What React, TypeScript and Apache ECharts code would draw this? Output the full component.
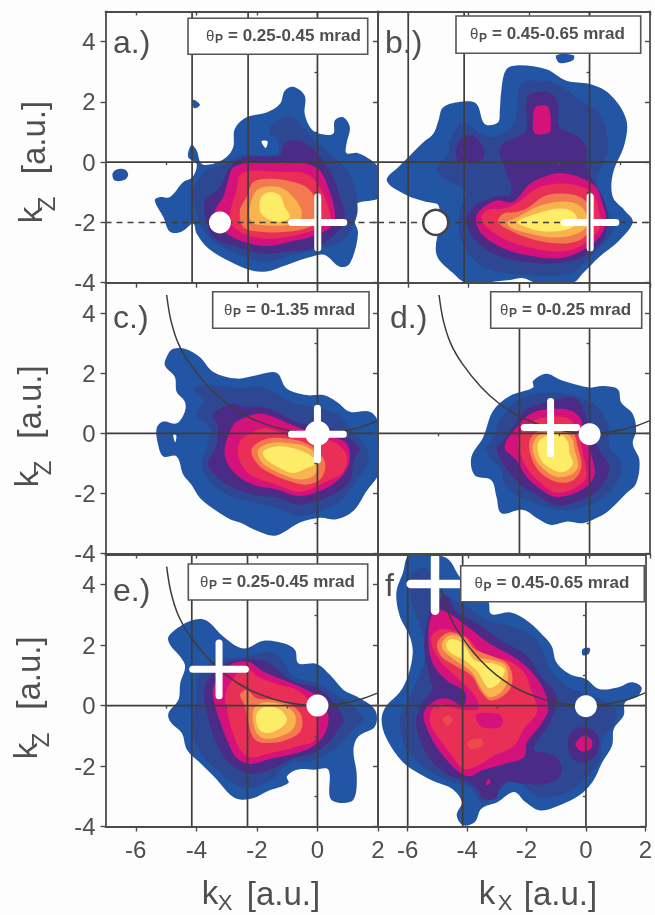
import React, { useEffect, useRef } from "react";
import * as echarts from "echarts";

type Poly = [number, number[][]];

const LEVEL_COLORS = ["#2255a3", "#2d4793", "#4a2b86", "#d5127c", "#e92f55", "#f27a4e", "#f9b44f", "#fdec68", "#ffffff", "#ec4a4c"];
const evenX = [-6, -4, -2, 0, 2];
const oddX = [-5, -3, -1, 1];
const evenZ = [-4, -2, 0, 2, 4];
const oddZ = [-3, -1, 1, 3];
const panelLetters = ["a.)", "b.)", "c.)", "d.)", "e.)", "f.)"];
const thetaRanges = ["0.25-0.45", "0.45-0.65", "0-1.35", "0-0.25", "0.25-0.45", "0.45-0.65"];
const verticalLines = [[-4.14, -2.29], [-6, -4.15], [], [-2.32], [-4.15, -2.31], [-6, -4.15]];
const arcPanels = [2, 3, 4, 5];
const arcPoints = [[-4.98, 4.6], [-4.85, 3.8], [-4.6, 3.0], [-4.2, 2.3], [-3.6, 1.55], [-3, 1.0], [-2.3, 0.55], [-1.5, 0.23], [-0.7, 0.05], [0, 0], [0.7, 0.05], [1.4, 0.2], [2, 0.42]];
// circle per panel: kx, kz
const circles = [[-3.22, -2], [-5.09, -2], [0, 0], [0, -0.03], [0, 0], [0, -0.02]];
// plus per panel: kx, kz, half arm in kx, half arm in kz
const pluses = [[0.01, -2, 0.86, 0.85], [0.02, -2, 0.85, 0.85], [0, -0.03, 0.86, 0.86], [-1.29, 0.19, 0.87, 0.87], [-3.25, 1.2, 0.87, 0.87], [-5.08, 4.02, 0.82, 0.88]];

const contoursA: Poly[] = [
  [0, [[-0.8, 2.5], [-0.42, 2.2], [-0.42, 1.6], [-0.2, 1.1], [0.08, 0.94], [0.52, 0.94], [0.57, 1.38], [0.85, 1.49], [1.07, 1.16], [0.96, 0.61], [0.96, 0.3], [1.34, 0.3], [1.78, 0.06], [2.06, -0.28], [2.06, -1.16], [1.29, -1.38], [1.18, -1.82], [1.34, -2.37], [1.07, -3.36], [0.74, -3.47], [0.24, -3.08], [-0.2, -3.14], [-1.02, -3.41], [-1.68, -3.63], [-2.23, -3.58], [-2.89, -3.3], [-3.61, -2.86], [-3.99, -2.37], [-4.1, -2.04], [-4.49, -2.31], [-4.87, -2.31], [-5.09, -1.82], [-5.37, -1.27], [-5.2, -1.16], [-4.87, -1.16], [-4.43, -0.66], [-4.13, -0.5], [-3.99, -0.06], [-4.27, 0.17], [-4.16, 0.57], [-3.99, 0.39], [-3.83, -0.05], [-3.44, -0.05], [-3.0, 0.17], [-2.78, 0.5], [-2.73, 1.1], [-2.34, 1.49], [-1.68, 1.65], [-1.24, 1.93], [-1.08, 2.37]]],
  [0, [[-6.77, -0.39], [-6.63, -0.24], [-6.36, -0.24], [-6.25, -0.41], [-6.36, -0.58], [-6.69, -0.61]]],
  [0, [[-4.1, 2.07], [-3.88, 1.9], [-4.08, 1.79]]],
  [8, [[-1.85, 0.69], [-1.65, 0.69], [-1.71, 0.47]]],
  [1, [[-1.52, 1.21], [-1.13, 1.49], [-0.75, 1.46], [-0.42, 1.1], [-0.09, 0.72], [0.35, 0.33], [0.68, 0.06], [1.07, -0.39], [1.29, -1.16], [1.29, -1.82], [0.85, -2.59], [0.08, -2.86], [-1.02, -3.14], [-1.79, -3.3], [-2.56, -3.08], [-3.33, -2.7], [-3.77, -2.26], [-3.99, -1.71], [-4.1, -0.94], [-3.66, -0.28], [-3.0, -0.05], [-2.56, 0.22], [-1.68, 0.22], [-1.3, 0.28], [-1.3, 0.72], [-1.57, 0.94]]],
  [2, [[-1.13, 0.55], [-0.86, 0.72], [-0.47, 0.66], [-0.09, 0.39], [0.24, -0.05], [0.52, -0.5], [0.74, -1.16], [0.9, -1.71], [0.85, -2.09], [0.41, -2.53], [-0.14, -2.86], [-1.02, -2.97], [-1.79, -3.03], [-2.67, -2.81], [-3.44, -2.48], [-3.66, -1.93], [-3.72, -1.32], [-3.22, -0.83], [-2.89, -0.17], [-2.34, 0.17], [-1.24, 0.22]]],
  [3, [[-2.78, -0.17], [-2.29, -0.02], [-1.24, -0.03], [-0.36, -0.05], [0.08, -0.28], [0.35, -0.83], [0.57, -1.6], [0.52, -2.04], [-0.03, -2.42], [-0.91, -2.64], [-1.68, -2.78], [-2.45, -2.64], [-3.0, -2.37], [-3.44, -1.93], [-3.33, -1.49], [-3.11, -1.16], [-2.89, -0.39]]],
  [4, [[-2.56, -0.44], [-2.12, -0.28], [-1.13, -0.33], [-0.36, -0.39], [0.08, -0.83], [0.35, -1.49], [0.41, -1.93], [-0.14, -2.26], [-1.02, -2.48], [-1.79, -2.53], [-2.45, -2.37], [-2.89, -1.98], [-2.84, -1.49], [-2.67, -0.94]]],
  [5, [[-2.12, -0.66], [-1.57, -0.55], [-1.02, -0.61], [-0.36, -0.83], [-0.03, -1.27], [0.13, -1.82], [-0.25, -2.15], [-1.02, -2.31], [-1.9, -2.31], [-2.45, -2.15], [-2.56, -1.6], [-2.34, -1.16]]],
  [6, [[-2.01, -0.94], [-1.57, -0.8], [-1.13, -0.88], [-0.8, -1.16], [-0.53, -1.6], [-0.58, -1.93], [-1.02, -2.09], [-1.79, -2.09], [-2.18, -1.98], [-2.23, -1.49]]],
  [7, [[-1.85, -1.16], [-1.57, -0.99], [-1.24, -1.1], [-1.08, -1.49], [-0.91, -1.82], [-1.24, -1.98], [-1.68, -1.87], [-1.9, -1.6]]],
];

const contoursB: Poly[] = [
  [0, [[-2.31, 3.22], [-1.43, 3.08], [-0.77, 2.7], [0, 2.59], [0.66, 2.26], [1.21, 1.43], [1.16, 0.61], [0.77, -0.39], [0.77, -1.16], [1.16, -1.6], [1.43, -1.98], [0.99, -2.59], [0.33, -3.14], [-0.22, -3.69], [-0.55, -4.0], [-1.76, -4.0], [-2.2, -3.85], [-2.64, -3.91], [-4.07, -4.0], [-4.51, -3.69], [-5.06, -3.08], [-5.0, -2.15], [-5.0, -1.43], [-5.39, -1.32], [-6.05, -1.1], [-6.71, -0.61], [-6.27, -0.11], [-5.94, 0.22], [-5.5, 0.66], [-5.17, 0.94], [-5.0, 1.38], [-4.84, 1.82], [-4.18, 2.01], [-3.74, 1.93], [-3.47, 1.27], [-3.03, 1.32], [-2.97, 1.71], [-2.92, 2.37], [-2.75, 3.08]]],
  [0, [[-1.1, 3.55], [-0.53, 3.55], [-0.55, 3.38], [-0.99, 3.29]]],
  [1, [[-1.98, 2.7], [-1.1, 2.61], [-0.44, 2.15], [0.33, 1.6], [0.61, 0.72], [0.55, 0.17], [0.22, -0.61], [0.55, -1.49], [0.77, -2.26], [0.22, -2.92], [-0.66, -3.69], [-2.09, -3.74], [-3.52, -3.47], [-4.24, -2.59], [-4.29, -1.6], [-4.07, -0.99], [-4.62, -0.66], [-5.06, -0.28], [-4.68, 0.28], [-4.62, 0.72], [-4.35, 1.21], [-4.07, 1.27], [-3.3, 0.83], [-2.64, 1.1], [-2.42, 1.6], [-2.31, 2.53]]],
  [2, [[-4.4, 0.5], [-4.18, 0.83], [-3.85, 0.88], [-3.52, 0.5], [-3.52, 0.11], [-3.96, 0], [-4.35, 0.05]]],
  [2, [[-1.98, 2.26], [-1.32, 2.31], [-1.05, 1.93], [-0.99, 1.16], [-0.44, 0.88], [-0.11, 0.5], [-0.11, -0.05], [0.05, -0.5], [0.44, -1.16], [0.61, -1.82], [0.44, -2.59], [-0.22, -3.14], [-1.1, -3.36], [-2.2, -3.3], [-3.19, -3.03], [-3.85, -2.48], [-4.07, -1.93], [-3.85, -1.49], [-3.19, -1.16], [-2.59, -1.05], [-2.81, -0.17], [-2.97, 0.28], [-2.86, 0.61], [-2.31, 0.88], [-2.09, 1.05], [-2.09, 1.93]]],
  [3, [[-1.79, 1.82], [-1.38, 1.84], [-1.29, 1.05], [-1.43, 0.94], [-1.82, 0.96], [-1.87, 1.38]]],
  [3, [[-1.98, -0.72], [-1.54, -0.5], [-0.99, -0.36], [-0.33, -0.5], [0.22, -0.83], [0.39, -1.27], [0.55, -1.93], [0.33, -2.48], [-0.22, -2.92], [-0.99, -3.19], [-2.09, -3.08], [-2.97, -2.81], [-3.58, -2.37], [-3.76, -1.93], [-3.63, -1.6], [-3.08, -1.27], [-2.53, -1.32]]],
  [4, [[-1.76, -0.88], [-1.1, -0.72], [-0.44, -0.77], [0.11, -1.05], [0.33, -1.71], [0.39, -2.09], [0.05, -2.53], [-0.44, -2.86], [-1.1, -2.97], [-2.09, -2.81], [-2.86, -2.53], [-3.41, -2.15], [-3.58, -1.87], [-3.41, -1.6], [-2.86, -1.54], [-2.42, -1.38]]],
  [5, [[-2.09, -1.54], [-1.43, -1.1], [-0.77, -1.05], [-0.22, -1.21], [0.11, -1.71], [0, -2.26], [-0.33, -2.59], [-0.99, -2.7], [-1.98, -2.53], [-2.64, -2.26], [-3.03, -1.98], [-2.86, -1.71], [-2.42, -1.65]]],
  [6, [[-2.37, -1.82], [-1.76, -1.49], [-1.1, -1.32], [-0.44, -1.38], [-0.11, -1.71], [-0.11, -2.15], [-0.55, -2.42], [-1.21, -2.5], [-1.98, -2.37], [-2.64, -2.15], [-2.7, -1.98]]],
  [7, [[-2.37, -1.98], [-1.76, -1.71], [-0.99, -1.54], [-0.55, -1.65], [-0.39, -1.98], [-0.66, -2.2], [-1.32, -2.31], [-1.98, -2.2]]],
];

const contoursC: Poly[] = [
  [0, [[-4.76, 2.81], [-4.38, 2.81], [-3.88, 2.53], [-3.44, 2.04], [-2.67, 1.82], [-2.01, 1.93], [-1.35, 2.01], [-1.02, 1.49], [-0.36, 1.27], [0.19, 1.27], [0.63, 1.05], [1.07, 0.72], [1.73, 0.72], [2.0, 0.39], [2.06, -0.39], [2.06, -1.27], [1.62, -1.93], [1.18, -2.59], [0.63, -2.86], [0.08, -2.81], [-0.58, -2.97], [-1.13, -3.3], [-1.46, -3.41], [-2.12, -3.19], [-2.56, -2.97], [-2.89, -2.86], [-3.33, -2.59], [-3.88, -2.15], [-4.16, -1.71], [-4.43, -1.38], [-4.65, -0.77], [-5.09, -0.77], [-5.26, -0.39], [-5.31, 0.17], [-5.09, 0.39], [-4.65, 0.33], [-4.38, 0.72], [-4.38, 1.05], [-4.65, 1.38], [-4.71, 1.87], [-5.04, 2.26], [-4.93, 2.64]]],
  [8, [[-4.76, -0.05], [-4.66, -0.08], [-4.7, -0.3]]],
  [1, [[-4.1, 1.49], [-3.44, 1.6], [-2.56, 1.49], [-1.9, 1.54], [-1.46, 1.38], [-0.91, 1.05], [-0.03, 0.83], [0.63, 0.66], [1.07, 0.17], [1.62, -0.5], [1.67, -0.94], [1.29, -1.6], [0.74, -2.26], [0.08, -2.59], [-0.58, -2.75], [-1.35, -2.48], [-2.23, -2.26], [-2.89, -2.09], [-3.55, -1.6], [-3.83, -1.05], [-3.66, -0.5], [-3.55, 0.17], [-3.99, 0.61], [-3.77, 1.1]]],
  [2, [[-3.44, 0.66], [-2.78, 0.99], [-2.45, 0.88], [-1.9, 0.88], [-1.35, 0.72], [-0.58, 0.33], [0.08, 0.28], [0.85, -0.05], [1.38, -0.5], [1.18, -0.94], [1.07, -1.6], [0.41, -2.09], [-0.58, -2.37], [-1.35, -2.15], [-2.12, -2.04], [-2.78, -1.82], [-3.22, -1.54], [-3.61, -1.05], [-3.33, -0.39], [-3.28, 0.17], [-3.39, 0.44]]],
  [3, [[-2.89, 0.05], [-2.67, 0.39], [-1.9, 0.66], [-1.35, 0.5], [-0.58, 0.17], [0.08, -0.05], [0.9, -0.28], [1.07, -0.83], [0.85, -1.38], [0.3, -1.82], [-0.58, -2.09], [-1.35, -1.87], [-2.12, -1.71], [-2.67, -1.38], [-3.0, -0.94], [-3.06, -0.5]]],
  [4, [[-2.56, -0.28], [-2.23, 0], [-1.68, 0.17], [-1.02, -0.05], [-0.36, -0.17], [0.52, -0.28], [0.96, -0.72], [0.85, -1.27], [0.3, -1.6], [-0.58, -1.95], [-1.35, -1.71], [-2.01, -1.49], [-2.4, -1.21], [-2.62, -0.72]]],
  [5, [[-2.18, -0.55], [-1.79, -0.22], [-1.02, -0.17], [-0.25, -0.39], [0.24, -0.94], [0.13, -1.49], [-0.36, -1.71], [-0.91, -1.6], [-1.57, -1.32], [-1.96, -1.05]]],
  [6, [[-1.96, -0.55], [-1.57, -0.33], [-0.91, -0.33], [-0.25, -0.5], [0.02, -0.94], [-0.09, -1.38], [-0.58, -1.54], [-1.13, -1.38], [-1.68, -1.1], [-1.9, -0.88]]],
  [7, [[-1.79, -0.61], [-1.35, -0.44], [-0.8, -0.5], [-0.25, -0.72], [-0.03, -0.99], [-0.36, -1.16], [-0.8, -1.32], [-1.13, -1.21], [-1.68, -0.88]]],
];

const contoursD: Poly[] = [
  [0, [[-1.87, 1.74], [-1.43, 1.98], [-0.99, 1.79], [-0.66, 1.68], [0, 1.52], [0.44, 1.57], [0.94, 1.46], [1.05, 1.02], [1.43, 0.64], [1.54, 0.09], [1.43, -0.35], [1.65, -0.9], [1.54, -1.67], [1.21, -2.0], [0.66, -2.55], [0.33, -2.77], [-0.22, -2.99], [-0.77, -2.94], [-1.27, -3.05], [-1.65, -2.88], [-2.2, -2.55], [-2.92, -2.66], [-3.08, -2.11], [-3.25, -1.56], [-3.8, -1.4], [-3.91, -0.79], [-3.52, -0.13], [-3.19, 0.75], [-2.64, 1.24], [-1.87, 1.52]]],
  [1, [[-2.97, 0.47], [-2.31, 1.13], [-1.43, 1.35], [-0.44, 1.24], [0.22, 0.91], [0.61, 0.31], [0.66, -0.46], [1.05, -1.01], [0.88, -1.67], [0.33, -2.22], [-0.22, -2.46], [-0.99, -2.55], [-1.76, -2.33], [-2.31, -2.11], [-2.81, -1.67], [-2.92, -1.23], [-3.41, -0.57], [-3.14, -0.02]]],
  [2, [[-2.53, 0.2], [-2.09, 0.8], [-1.32, 1.06], [-0.55, 1.19], [-0.22, 0.86], [-0.05, 0.31], [0.33, -0.57], [0.64, -1.07], [0.55, -1.51], [0.22, -1.95], [-0.44, -2.28], [-1.1, -2.41], [-1.65, -2.11], [-2.2, -1.78], [-2.64, -1.34], [-3.08, -0.52], [-2.86, -0.24]]],
  [3, [[-2.37, 0.25], [-1.87, 0.69], [-1.32, 0.8], [-0.66, 0.77], [-0.33, 0.53], [-0.17, -0.02], [0.05, -0.68], [0.17, -1.34], [-0.05, -1.73], [-0.55, -2.02], [-1.16, -2.11], [-1.65, -1.84], [-2.09, -1.45], [-2.42, -0.9], [-2.81, -0.46]]],
  [4, [[-2.31, -0.02], [-1.87, 0.4], [-1.32, 0.55], [-0.66, 0.47], [-0.39, 0.03], [-0.22, -0.68], [-0.11, -1.45], [-0.44, -1.8], [-1.1, -1.98], [-1.6, -1.67], [-1.98, -1.29], [-2.22, -0.85], [-2.37, -0.41]]],
  [5, [[-1.98, -0.24], [-1.65, 0.09], [-0.99, 0.14], [-0.55, 0.03], [-0.39, -0.46], [-0.27, -1.12], [-0.55, -1.56], [-1.1, -1.62], [-1.65, -1.29], [-1.93, -0.79]]],
  [6, [[-1.87, -0.35], [-1.6, -0.02], [-0.99, 0.03], [-0.6, -0.13], [-0.49, -0.57], [-0.38, -1.12], [-0.66, -1.4], [-1.1, -1.45], [-1.54, -1.18], [-1.82, -0.79]]],
  [7, [[-1.71, -0.35], [-1.43, -0.08], [-0.99, -0.02], [-0.71, -0.3], [-0.66, -0.68], [-0.55, -1.01], [-0.88, -1.29], [-1.27, -1.18], [-1.6, -0.9]]],
];

const contoursE: Poly[] = [
  [0, [[-4.92, 2.28], [-4.48, 2.66], [-4.04, 2.85], [-3.65, 2.81], [-3.1, 2.28], [-2.44, 1.89], [-1.78, 2.15], [-1.12, 2.06], [-0.74, 1.84], [-0.63, 1.4], [-0.02, 1.38], [0.42, 1.01], [0.86, 0.52], [1.3, 0.3], [1.9, -0.14], [1.9, -0.69], [1.35, -1.02], [1.19, -1.46], [1.3, -2.34], [1.19, -3.11], [0.75, -3.22], [0.42, -3.06], [0.36, -2.12], [-0.13, -2.12], [-0.68, -2.12], [-1.01, -2.34], [-0.96, -2.56], [-1.67, -2.84], [-2.11, -3.06], [-2.55, -3.11], [-2.88, -2.95], [-3.32, -2.45], [-3.87, -1.9], [-4.31, -1.46], [-4.48, -0.91], [-4.86, -0.53], [-4.92, -0.25], [-4.59, 0.19], [-4.53, 0.74], [-4.37, 1.29], [-4.53, 1.62], [-4.86, 2.0]]],
  [1, [[-3.98, 0.85], [-3.65, 1.34], [-2.99, 1.56], [-2.33, 1.62], [-1.56, 1.78], [-1.18, 1.51], [-0.79, 0.96], [-0.02, 0.74], [0.53, 0.41], [1.19, -0.03], [1.52, -0.47], [1.19, -0.8], [0.86, -1.13], [0.53, -1.46], [-0.24, -1.85], [-0.9, -1.9], [-1.56, -2.45], [-2.22, -2.73], [-2.77, -2.56], [-3.32, -2.12], [-3.76, -1.68], [-4.09, -1.13], [-4.15, -0.47], [-3.98, 0.19]]],
  [2, [[-3.74, 0.52], [-3.54, 0.96], [-2.99, 1.4], [-2.28, 1.53], [-1.67, 1.45], [-1.23, 1.12], [-0.79, 0.79], [-0.13, 0.63], [0.42, 0.24], [0.86, -0.47], [0.64, -0.86], [0.36, -1.24], [-0.13, -1.57], [-0.79, -1.74], [-1.56, -2.12], [-2.22, -2.26], [-2.77, -2.01], [-3.1, -1.68], [-3.43, -1.02], [-3.65, -0.25]]],
  [3, [[-3.43, 0.63], [-2.88, 1.34], [-2.28, 1.45], [-1.78, 1.12], [-1.12, 0.85], [-0.46, 0.57], [0.09, 0.24], [0.36, -0.36], [0.25, -0.91], [-0.08, -1.3], [-0.68, -1.57], [-1.67, -1.79], [-2.22, -1.93], [-2.66, -1.74], [-2.99, -1.13], [-3.27, -0.36], [-3.43, 0.19]]],
  [4, [[-2.88, 0.74], [-2.39, 1.29], [-2.0, 0.98], [-1.23, 0.68], [-0.68, 0.52], [-0.24, 0.13], [-0.02, -0.36], [-0.08, -1.13], [-0.68, -1.35], [-1.67, -1.6], [-2.22, -1.71], [-2.55, -1.46], [-2.83, -0.8], [-2.99, -0.14], [-3.05, 0.3]]],
  [5, [[-2.55, 0.35], [-2.33, 0.52], [-2.0, 0.24], [-1.34, 0.19], [-0.79, -0.03], [-0.52, -0.36], [-0.57, -0.86], [-1.01, -1.13], [-1.56, -1.24], [-2.06, -1.13], [-2.28, -0.58], [-2.39, -0.03]]],
  [6, [[-2.11, -0.14], [-1.78, 0.1], [-1.12, 0.02], [-0.74, -0.31], [-0.79, -0.75], [-1.23, -1.02], [-1.78, -1.08], [-2.06, -0.8]]],
  [7, [[-2.0, -0.25], [-1.67, -0.03], [-1.23, -0.14], [-1.01, -0.47], [-1.23, -0.75], [-1.67, -0.91], [-1.95, -0.75]]],
];

const contoursF: Poly[] = [
  [0, [[-5.94, 4.97], [-4.73, 4.9], [-4.27, 4.29], [-3.96, 3.85], [-3.3, 3.47], [-3.19, 3.03], [-2.53, 3.08], [-1.98, 2.81], [-1.54, 2.42], [-1.16, 1.98], [-0.99, 1.43], [-0.55, 1.05], [0, 0.88], [0.44, 0.55], [1.1, 0.61], [1.54, 0.77], [1.87, 0.61], [1.76, 0.33], [1.32, 0.11], [1.27, -0.33], [0.94, -0.77], [0.88, -1.32], [0.55, -1.87], [0.22, -2.53], [-0.22, -2.97], [-0.88, -3.3], [-1.54, -3.47], [-2.04, -3.19], [-2.42, -2.86], [-2.97, -3.19], [-3.52, -3.41], [-3.74, -3.85], [-4.13, -3.96], [-4.35, -3.63], [-4.18, -3.19], [-4.51, -2.75], [-5.06, -2.53], [-5.5, -2.31], [-6.16, -1.87], [-6.71, -1.1], [-6.88, -0.44], [-6.71, 0], [-6.27, 0.44], [-5.99, 0.99], [-5.83, 1.76], [-5.94, 2.31], [-6.27, 2.97], [-6.38, 3.74], [-6.16, 4.4]]],
  [0, [[-0.11, 1.87], [0.13, 1.9], [0.09, 1.71], [-0.11, 1.67]]],
  [1, [[-5.72, 4.49], [-5.34, 4.51], [-4.79, 3.74], [-3.96, 3.25], [-3.3, 2.81], [-2.53, 2.64], [-1.76, 2.26], [-1.43, 1.76], [-1.21, 1.21], [-0.66, 0.66], [0, 0.39], [0.99, -0.11], [0.94, -0.66], [0.55, -1.1], [0.44, -1.87], [-0.22, -2.59], [-0.77, -2.92], [-1.54, -3.03], [-1.98, -2.75], [-2.42, -2.42], [-2.86, -2.75], [-3.47, -3.25], [-3.85, -2.75], [-4.51, -2.53], [-5.39, -2.09], [-6.05, -1.43], [-6.27, -0.44], [-6.05, 0], [-5.72, 0.77], [-5.45, 1.43], [-5.45, 2.2], [-5.83, 3.3], [-5.94, 4.18]]],
  [2, [[-0.61, -1.27], [-0.44, -0.83], [0, -0.72], [0.39, -0.99], [0.39, -1.54], [0, -1.87], [-0.44, -1.76]]],
  [2, [[-5.17, 3.3], [-4.68, 3.63], [-4.4, 3.14], [-3.63, 2.7], [-2.86, 2.15], [-1.98, 1.65], [-1.54, 0.99], [-0.99, 0.33], [-1.21, -0.55], [-1.76, -1.43], [-1.1, -1.65], [-0.83, -1.98], [-0.94, -2.42], [-1.43, -2.59], [-2.09, -2.59], [-2.64, -2.53], [-2.92, -2.75], [-3.03, -3.08], [-3.47, -3.08], [-3.63, -2.81], [-4.07, -2.48], [-4.62, -2.31], [-5.17, -1.87], [-5.5, -1.32], [-5.72, -0.55], [-5.55, 0], [-5.17, 0.55], [-5.28, 0.99], [-5.45, 1.98], [-5.34, 2.75]]],
  [3, [[-5.17, 3.03], [-4.79, 3.14], [-3.96, 2.59], [-3.3, 2.09], [-2.42, 1.6], [-1.87, 1.16], [-1.43, 0.55], [-1.27, -0.11], [-1.54, -0.66], [-1.98, -1.21], [-2.09, -1.71], [-2.75, -1.93], [-3.52, -2.15], [-3.85, -2.33], [-4.18, -2.26], [-4.62, -1.87], [-5.06, -1.32], [-5.39, -0.66], [-5.45, -0.22], [-5.06, 0.17], [-4.62, 0.22], [-4.13, 0], [-4.07, 0.44], [-4.68, 0.83], [-5.17, 1.43], [-5.3, 2.25]]],
  [3, [[-3.36, -2.53], [-3.25, -2.42], [-3.21, -2.53], [-3.33, -2.64]]],
  [3, [[-0.33, -1.21], [-0.05, -0.99], [0.2, -1.16], [0.17, -1.43], [-0.11, -1.52], [-0.31, -1.38]]],
  [4, [[-5.22, 2.2], [-4.89, 2.53], [-4.07, 2.31], [-3.52, 1.76], [-2.64, 1.49], [-2.09, 1.1], [-1.82, 0.44], [-1.65, -0.22], [-2.09, -0.77], [-2.42, -1.32], [-3.08, -1.65], [-3.63, -1.98], [-4.13, -2.09], [-4.51, -1.65], [-4.89, -1.16], [-5.22, -0.66], [-5.22, -0.22], [-4.89, 0.05], [-4.29, -0.11], [-3.63, -0.11], [-3.74, 0.33], [-4.29, 0.88], [-4.95, 1.54]]],
  [3, [[-3.67, -0.28], [-2.95, -0.28], [-2.79, -0.5], [-2.9, -0.72], [-3.47, -0.72], [-3.67, -0.5]]],
  [9, [[-4.82, -0.44], [-4.62, -0.33], [-4.49, -0.5], [-4.68, -0.66]]],
  [9, [[-3.96, -1.19], [-3.52, -1.1], [-3.47, -1.32], [-3.91, -1.43]]],
  [5, [[-5.0, 2.09], [-4.62, 2.42], [-4.07, 2.26], [-3.74, 1.87], [-3.08, 1.6], [-2.64, 1.38], [-2.47, 0.88], [-2.64, 0.44], [-3.19, 0.17], [-3.52, 0.44], [-3.85, 0.99], [-4.4, 1.32], [-4.89, 1.65]]],
  [6, [[-4.84, 2.09], [-4.57, 2.33], [-4.13, 2.2], [-3.74, 1.65], [-3.08, 1.49], [-2.7, 1.32], [-2.64, 0.83], [-2.86, 0.44], [-3.25, 0.28], [-3.52, 0.55], [-3.85, 1.1], [-4.46, 1.54], [-4.79, 1.82]]],
  [7, [[-4.71, 2.04], [-4.51, 2.2], [-4.13, 2.04], [-3.74, 1.49], [-3.08, 1.38], [-2.75, 1.21], [-2.81, 0.94], [-3.03, 0.66], [-3.3, 0.6], [-3.63, 1.1], [-4.07, 1.49], [-4.57, 1.76]]],
];

const allContours = [contoursA, contoursB, contoursC, contoursD, contoursE, contoursF];

const INK = "#4d4a4a";
const FONT = '"Liberation Sans", Arial, sans-serif';
const grids = [
  { left: 105.5, top: 11.5, width: 272.5, height: 271.2 },
  { left: 378, top: 11.5, width: 272, height: 271.2 },
  { left: 105.5, top: 283, width: 272.5, height: 270.5 },
  { left: 378, top: 283, width: 272, height: 270.5 },
  { left: 105.5, top: 554.5, width: 272.5, height: 272 },
  { left: 378, top: 554.5, width: 272, height: 272 },
];
const boxes = [
  [188, 18.3, 179.7, 36, 206], [456, 16, 184.7, 37.3, 470], [212.7, 291.7, 156.3, 36.6, 224],
  [490.7, 291.7, 151, 36.6, 500], [188.3, 564, 179.4, 36, 200], [460.7, 565.7, 183.6, 36, 474.5],
];
const letterPos = [[113, 42], [385, 42], [113, 317], [390, 317], [113, 590], [385, 585]];
const yTitles = [[33, 137.5, 30, 215, 46, 204], [29, 402, 26, 479, 42, 468], [28, 673, 25, 751, 40, 740]];
const xTitles = [[283.5, 210, 225], [560.5, 487, 505]];

function makeOption() {
  const xAxis: any[] = [];
  const yAxis: any[] = [];
  const series: any[] = [];
  const graphic: any[] = [];
  const line = { color: INK, width: 1.8 };
  const thin = { color: INK, width: 1.4 };
  grids.forEach((_, i) => {
    const col = i % 2;
    const row = Math.floor(i / 2);
    const xBase = { gridIndex: i, type: "value", min: -7, max: 2, interval: 1, z: 5, splitLine: { show: false } };
    const yBase = { gridIndex: i, type: "value", min: -4, max: 5, interval: 1, z: 5, splitLine: { show: false } };
    const lab = { color: "#4f4f4f", fontFamily: FONT, fontSize: 24, hideOverlap: false };
    xAxis.push({ ...xBase, position: "bottom", axisLine: { show: true, onZero: false, lineStyle: line },
      axisTick: { show: true, length: 5, customValues: evenX, lineStyle: thin },
      axisLabel: { ...lab, show: row === 2, customValues: evenX, margin: 11 } });
    xAxis.push({ ...xBase, position: "bottom", axisLine: { show: false },
      axisTick: { show: true, length: 3, customValues: oddX, lineStyle: thin }, axisLabel: { show: false } });
    xAxis.push({ ...xBase, position: "top", axisLine: { show: true, onZero: false, lineStyle: line },
      axisTick: { show: row === 0, inside: true, length: 4, customValues: evenX, lineStyle: thin }, axisLabel: { show: false } });
    yAxis.push({ ...yBase, position: "left", axisLine: { show: true, onZero: false, lineStyle: line },
      axisTick: { show: true, length: 5, customValues: evenZ, lineStyle: thin },
      axisLabel: { ...lab, show: col === 0, customValues: evenZ, margin: 10 } });
    yAxis.push({ ...yBase, position: "left", axisLine: { show: false },
      axisTick: { show: true, length: 3, customValues: oddZ, lineStyle: thin }, axisLabel: { show: false } });
    yAxis.push({ ...yBase, position: "right", axisLine: { show: true, onZero: false, lineStyle: line },
      axisTick: { show: col === 1, inside: true, length: 5, customValues: evenZ, lineStyle: thin }, axisLabel: { show: false } });

    const ax = { xAxisIndex: 3 * i, yAxisIndex: 3 * i };
    const polys = allContours[i];
    series.push({
      type: "custom", coordinateSystem: "cartesian2d", ...ax, z: 2, clip: true, silent: true,
      data: polys.map((p, k) => [p[1][0][0], p[1][0][1], k]),
      renderItem: (params: any, api: any) => {
        const p = polys[params.dataIndex];
        return { type: "polygon", shape: { points: p[1].map((q) => api.coord(q)), smooth: 0.35 }, style: { fill: LEVEL_COLORS[p[0]], stroke: null } };
      },
    });
    const ref = (data: number[][], z: number, extra: any = {}) =>
      series.push({ type: "line", ...ax, z, symbol: "none", silent: true, data, lineStyle: { color: "#3f3c3c", width: 1.7, ...extra } });
    ref([[-7, 0], [2, 0]], 3);
    verticalLines[i].forEach((v) => ref([[v, -4], [v, 5]], 3));
    ref([[0, -4], [0, 5]], row === 0 ? 6 : 3);
    if (row === 0) ref([[-7, -2], [2, -2]], 3, { type: [6, 5], width: 1.4 });
    if (arcPanels.includes(i))
      series.push({ type: "line", ...ax, z: 3, symbol: "none", silent: true, smooth: 0.3, data: arcPoints, lineStyle: { color: "#3f3c3c", width: 1.5 } });
    series.push({
      type: "scatter", ...ax, z: 4, silent: true, symbol: "circle", symbolSize: i === 1 ? 25 : i === 2 ? 25 : 22, data: [circles[i]],
      itemStyle: { color: "#fff", opacity: 1, borderColor: i === 1 ? "#444" : "#fff", borderWidth: i === 1 ? 2.5 : 0 },
    });
    const w = i === 5 ? 8.5 : 7;
    series.push({
      type: "custom", coordinateSystem: "cartesian2d", ...ax, z: 5, clip: false, silent: true,
      data: [pluses[i]],
      renderItem: (_p: any, api: any) => {
        const cx = api.value(0), cz = api.value(1), ax2 = api.value(2), az2 = api.value(3);
        const a = api.coord([cx - ax2, cz]), b = api.coord([cx + ax2, cz]), c = api.coord([cx, cz - az2]), d = api.coord([cx, cz + az2]);
        const style = { stroke: "#fff", lineWidth: w, lineCap: "round", fill: null };
        return { type: "group", children: [
          { type: "line", shape: { x1: a[0], y1: a[1], x2: b[0], y2: b[1] }, style },
          { type: "line", shape: { x1: c[0], y1: c[1], x2: d[0], y2: d[1] }, style },
        ] };
      },
    });

    const [bx, by, bw, bh, tx] = boxes[i];
    graphic.push({ type: "rect", z: 10, shape: { x: bx, y: by, width: bw, height: bh }, style: { fill: "#fff", stroke: "#555", lineWidth: 1.6 } });
    const cy = by + bh / 2 - 1;
    graphic.push({ type: "text", z: 11, x: tx, y: cy, style: { text: "θ", fill: "#4f4f4f", font: `15px ${FONT}`, textVerticalAlign: "middle" } });
    graphic.push({ type: "text", z: 11, x: tx + 9, y: cy + 4, style: { text: "P", fill: "#4f4f4f", font: `bold 12px ${FONT}`, textVerticalAlign: "middle" } });
    graphic.push({ type: "text", z: 11, x: tx + 22, y: cy, style: { text: `= ${thetaRanges[i]} mrad`, fill: "#4f4f4f", font: `bold 17px ${FONT}`, textVerticalAlign: "middle" } });
    graphic.push({ type: "text", z: i === 5 ? 1 : 8, x: letterPos[i][0], y: letterPos[i][1], style: { text: panelLetters[i], fill: "#4f4f4f", font: `32px ${FONT}`, textVerticalAlign: "middle" } });
  });
  yTitles.forEach(([bxx, byy, kx, ky, zx, zy]) => {
    graphic.push({ type: "text", z: 8, x: bxx, y: byy, rotation: Math.PI / 2, style: { text: "[a.u.]", fill: "#4f4f4f", font: `33px ${FONT}`, textAlign: "center", textVerticalAlign: "middle" } });
    graphic.push({ type: "text", z: 8, x: kx, y: ky, rotation: Math.PI / 2, style: { text: "k", fill: "#4f4f4f", font: `33px ${FONT}`, textAlign: "center", textVerticalAlign: "middle" } });
    graphic.push({ type: "text", z: 8, x: zx, y: zy, rotation: Math.PI / 2, style: { text: "Z", fill: "#4f4f4f", font: `24px ${FONT}`, textAlign: "center", textVerticalAlign: "middle" } });
  });
  xTitles.forEach(([bxx, kx, zx]) => {
    graphic.push({ type: "text", z: 8, x: bxx, y: 893, style: { text: "[a.u.]", fill: "#4f4f4f", font: `33px ${FONT}`, textAlign: "center", textVerticalAlign: "middle" } });
    graphic.push({ type: "text", z: 8, x: kx, y: 892, style: { text: "k", fill: "#4f4f4f", font: `33px ${FONT}`, textAlign: "center", textVerticalAlign: "middle" } });
    graphic.push({ type: "text", z: 8, x: zx, y: 902, style: { text: "X", fill: "#4f4f4f", font: `22px ${FONT}`, textAlign: "center", textVerticalAlign: "middle" } });
  });
  return { animation: false, backgroundColor: "#fdfdfd", grid: grids.map((g) => ({ ...g, containLabel: false })), xAxis, yAxis, series, graphic: { elements: graphic } };
}

export default function App() {
  const ref = useRef<HTMLDivElement>(null);
  useEffect(() => {
    document.body.style.margin = "0";
    const chart = echarts.init(ref.current!, undefined, { renderer: "svg" });
    chart.setOption(makeOption() as any);
    return () => chart.dispose();
  }, []);
  return <div ref={ref} style={{ position: "absolute", left: 0, top: 0, width: 655, height: 915, filter: "blur(0.45px)" }} />;
}
